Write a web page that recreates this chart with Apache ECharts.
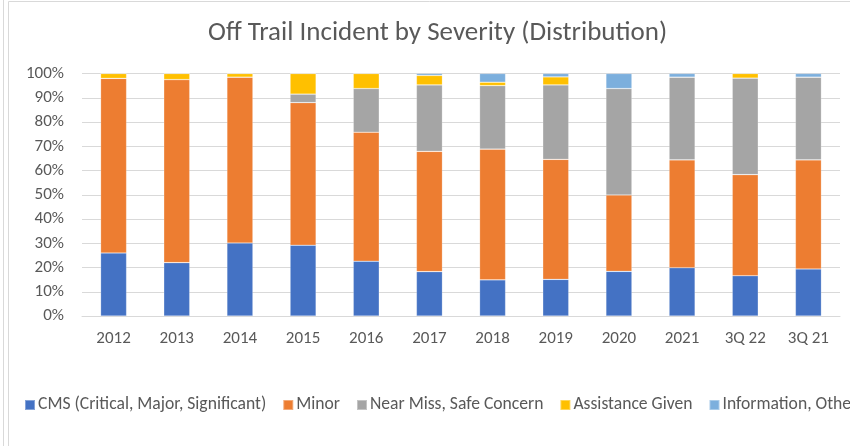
<!DOCTYPE html>
<html>
<head>
<meta charset="utf-8">
<script src="https://cdn.jsdelivr.net/npm/echarts@6/dist/echarts.min.js"></script>
<style>
  html, body { margin: 0; padding: 0; background: #fff; }
  #chart { width: 850px; height: 446px; }
</style>
</head>
<body>
<div id="chart"></div>
<script>
  // categories (order as shown on the x axis)
  const categories = ['2012', '2013', '2014', '2015', '2016', '2017', '2018', '2019', '2020', '2021', '3Q 22', '3Q 21'];

  // share of incidents per year, in %
  const cms = [26.0, 22.0, 30.1, 29.2, 22.6, 18.3, 14.9, 15.1, 18.4, 19.9, 16.6, 19.4];
  const minor = [72.0, 75.5, 68.4, 58.8, 53.2, 49.6, 53.9, 49.5, 31.5, 44.5, 41.7, 45.0];
  const nearMiss = [0, 0, 0, 3.5, 18.0, 27.4, 26.2, 30.7, 43.9, 34.1, 39.8, 34.1];
  const assistance = [2.0, 2.5, 1.5, 8.5, 6.2, 3.9, 1.4, 3.3, 0, 0, 1.9, 0];
  const information = [0, 0, 0, 0, 0, 0.8, 3.6, 1.4, 6.2, 1.5, 0, 1.5];

  const yTicks = [0, 10, 20, 30, 40, 50, 60, 70, 80, 90, 100];

  const font = "Carlito, 'Liberation Sans Narrow', 'Noto Sans', sans-serif";
  const textColor = '#595959';

  const chart = echarts.init(document.getElementById('chart'), null, { renderer: 'canvas' });

  function bar(name, data, color) {
    return {
      name: name,
      type: 'bar',
      stack: 'total',
      barWidth: 26,
      data: data,
      itemStyle: { color: color, borderColor: 'rgba(255,255,255,0.35)', borderWidth: 0.6 },
      emphasis: { disabled: true }
    };
  }

  const option = {
    animation: false,
    textStyle: { fontFamily: font },
    title: {
      text: 'Off Trail Incident by Severity (Distribution)',
      left: 203,
      top: 15,
      textStyle: { fontFamily: font, fontSize: 27, fontWeight: 'normal', color: textColor }
    },
    graphic: [
      { type: 'line', shape: { x1: 3.5, y1: 0, x2: 3.5, y2: 446 }, style: { stroke: '#d9d9d9', lineWidth: 1 } },
      { type: 'line', shape: { x1: 8.5, y1: 1.5, x2: 8.5, y2: 446 }, style: { stroke: '#d9d9d9', lineWidth: 1 } },
      { type: 'line', shape: { x1: 8.5, y1: 1.5, x2: 850, y2: 1.5 }, style: { stroke: '#d9d9d9', lineWidth: 1 } }
    ],
    legend: {
      left: 19,
      top: 391,
      width: 1600,
      itemWidth: 10,
      itemHeight: 10,
      itemGap: 16,
      icon: 'rect',
      textStyle: { fontFamily: font, fontSize: 17.6, color: textColor, padding: [0, 0, 0, -2] },
      data: ['CMS (Critical, Major, Significant)', 'Minor', 'Near Miss, Safe Concern', 'Assistance Given', 'Information, Other']
    },
    grid: {
      left: 82,
      right: 10,
      top: 73.5,
      bottom: 130
    },
    xAxis: {
      type: 'category',
      data: categories,
      axisLine: { show: true, lineStyle: { color: '#d9d9d9' } },
      axisTick: { show: false },
      axisLabel: { color: textColor, fontSize: 17, margin: 14, fontFamily: font }
    },
    yAxis: {
      type: 'value',
      min: yTicks[0],
      max: yTicks[yTicks.length - 1],
      interval: 10,
      axisLine: { show: false },
      axisTick: { show: false },
      splitLine: { lineStyle: { color: '#d9d9d9', width: 1 } },
      axisLabel: {
        color: textColor,
        fontSize: 17,
        margin: 18,
        fontFamily: font,
        formatter: '{value}%'
      }
    },
    series: [
      bar('CMS (Critical, Major, Significant)', cms, '#4472c4'),
      bar('Minor', minor, '#ed7d31'),
      bar('Near Miss, Safe Concern', nearMiss, '#a5a5a5'),
      bar('Assistance Given', assistance, '#ffc000'),
      bar('Information, Other', information, '#7cafdd')
    ]
  };

  chart.setOption(option);
  window.addEventListener('resize', function () {
    chart.resize();
  });
</script>
</body>
</html>
